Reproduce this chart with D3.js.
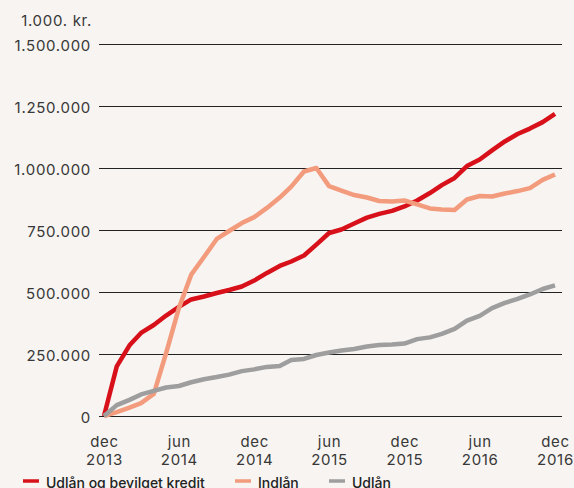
<!DOCTYPE html>
<html>
<head>
<meta charset="UTF-8">
<style>
  body { margin: 0; background: #f7f4f1; }
  svg { display: block; }
  svg text { font-family: Inter, "Noto Sans", sans-serif; }
  .axis text { font-size: 15px; fill: #383838; font-weight: 400; letter-spacing: 0.7px; }
  .legend text { font-size: 14px; fill: #222; font-weight: 500; }
</style>
</head>
<body>
<svg></svg>
<script src="https://d3js.org/d3.v7.min.js"></script>
<script>

let width = 574, height = 488;

// monthly values, dec 2013 .. dec 2016 (1.000 kr.)
let startMonth = new Date(2013, 11, 1);
let kredit = [0, 200000, 285000, 335000, 367000, 405000, 440000, 470000, 482000, 496000,
  508000, 522000, 546000, 577000, 605000, 623000, 647000, 691000, 738000, 752000,
  776000, 800000, 815000, 827000, 845000, 869000, 899000, 931000, 960000, 1008000,
  1034000, 1071000, 1107000, 1137000, 1159000, 1185000, 1218000];
let indlaan = [0, 16000, 34000, 52000, 89000, 254000, 435000, 570000, 641000, 714000,
  746000, 778000, 802000, 839000, 881000, 925000, 986000, 1000000, 927000, 909000,
  891000, 881000, 867000, 865000, 869000, 853000, 837000, 833000, 831000, 873000,
  887000, 885000, 897000, 907000, 919000, 952000, 974000];
let udlaan = [0, 44000, 65000, 87000, 101000, 115000, 121000, 136000, 148000, 157000,
  167000, 181000, 188000, 198000, 202000, 226000, 230000, 246000, 256000, 264000,
  270000, 280000, 286000, 288000, 292000, 310000, 317000, 331000, 351000, 385000,
  404000, 435000, 456000, 472000, 490000, 512000, 527000];

let seriesNames = ["Udlån og bevilget kredit", "Indlån", "Udlån"];
let seriesColors = ["#d7101a", "#f39b7d", "#9e9e9e"];
let yTicks = [0, 250000, 500000, 750000, 1000000, 1250000, 1500000];
let monthNames = ["jan", "feb", "mar", "apr", "maj", "jun", "jul", "aug", "sep", "okt", "nov", "dec"];

let dates = kredit.map((d, i) => d3.timeMonth.offset(startMonth, i));

let svg = d3.select("svg")
    .attr("width", width)
    .attr("height", height);

svg.append("rect").attr("width", width).attr("height", height).attr("fill", "#f7f4f1");

let x = d3.scaleTime()
    .domain([dates[0], dates[dates.length - 1]])
    .range([104, 555]);

let y = d3.scaleLinear()
    .domain([0, 1500000])
    .range([416, 44]);

let dk = d3.formatLocale({decimal: ",", thousands: ".", grouping: [3], currency: ["", " kr."]});

// y axis with grid lines
let yAxis = svg.append("g")
    .attr("class", "axis")
    .attr("transform", "translate(99,0)")
    .call(d3.axisLeft(y)
      .tickValues(yTicks)
      .tickFormat(dk.format(","))
      .tickSize(-463)
      .tickPadding(8));
yAxis.select(".domain").remove();
yAxis.selectAll(".tick line").attr("stroke", "#222").attr("stroke-width", 1.2);
yAxis.selectAll(".tick text").attr("dy", "0.45em");

svg.append("g").attr("class", "axis")
  .append("text")
    .attr("x", 92)
    .attr("y", 26)
    .attr("text-anchor", "end")
    .text("1.000. kr.");

// x axis labels (two lines)
let xTicks = dates.filter((d, i) => i % 6 == 0);
let xAxis = svg.append("g")
    .attr("class", "axis")
    .attr("transform", "translate(0,416)")
    .call(d3.axisBottom(x).tickValues(xTicks).tickSize(0).tickFormat(""));
xAxis.select(".domain").remove();
xAxis.selectAll(".tick").each(function(d) {
  let t = d3.select(this).append("text")
      .attr("text-anchor", "middle");
  t.append("tspan").attr("x", 0).attr("y", 31).text(monthNames[d.getMonth()]);
  t.append("tspan").attr("x", 0).attr("y", 49).text(d.getFullYear());
});

// lines
let line = d3.line()
    .x((d, i) => x(dates[i]))
    .y(d => y(d));

[kredit, indlaan, udlaan].forEach((s, i) => {
  svg.append("path")
      .datum(s)
      .attr("fill", "none")
      .attr("stroke", seriesColors[i])
      .attr("stroke-width", 4.5)
      .attr("stroke-linejoin", "round")
      .attr("d", line);
});

// legend
let legendX = [23, 235, 329];
let legend = svg.append("g").attr("class", "legend");
seriesNames.forEach((name, i) => {
  legend.append("line")
      .attr("x1", legendX[i]).attr("x2", legendX[i] + 16)
      .attr("y1", 481).attr("y2", 481)
      .attr("stroke", seriesColors[i])
      .attr("stroke-width", 3.5);
  legend.append("text")
      .attr("x", legendX[i] + 23)
      .attr("y", 488)
      .text(name);
});

</script>
</body>
</html>
